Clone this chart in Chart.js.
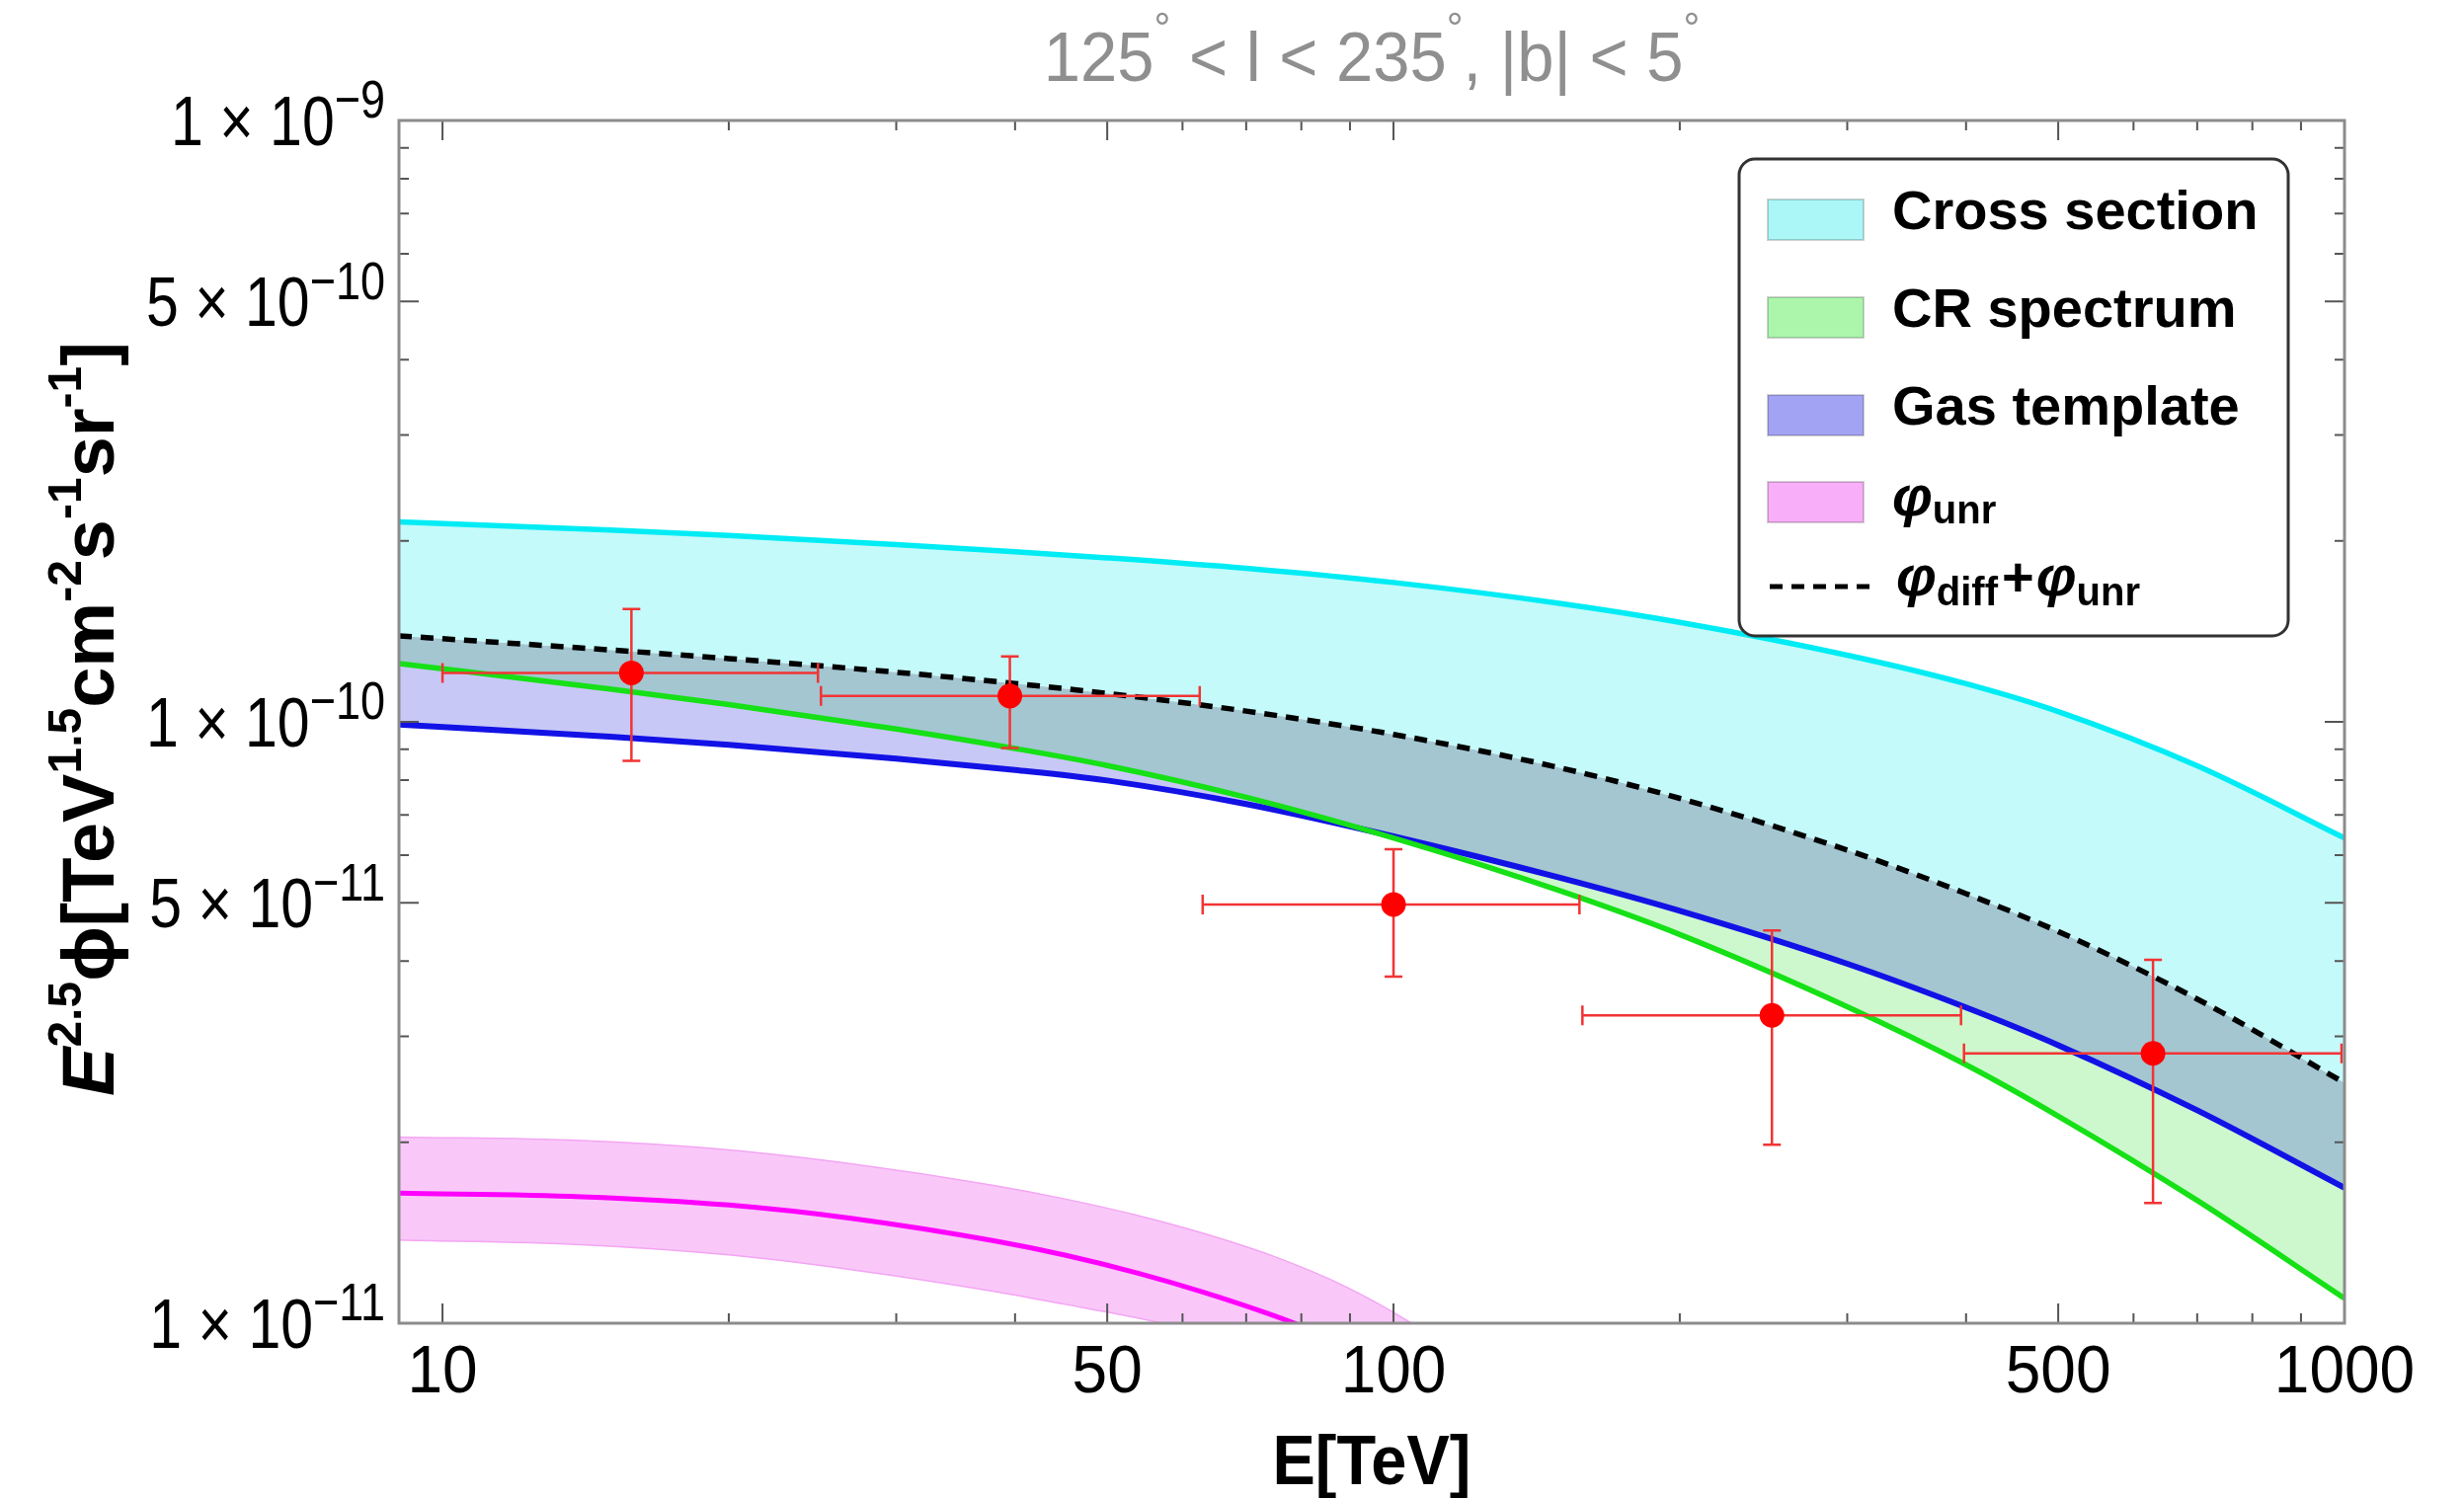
<!DOCTYPE html>
<html>
<head>
<meta charset="utf-8">
<title>125 &lt; l &lt; 235, |b| &lt; 5</title>
<script src="https://cdn.jsdelivr.net/npm/chart.js@4.4.1/dist/chart.umd.min.js"></script>
<style>
  html, body { margin: 0; padding: 0; background: #ffffff; }
  #grafico { display: block; }
</style>
</head>
<body>
<canvas id="grafico" width="2495" height="1517"></canvas>
<script>
// model curves, E in TeV, flux as E^2.5 phi
var energyGrid = [9, 15, 20, 30, 40, 50, 70, 100, 150, 200, 300, 400, 500, 700, 1000];
var crossSectionUpper = [2.15e-10, 2.085e-10, 2.041e-10, 1.971e-10, 1.918e-10, 1.874e-10, 1.80e-10, 1.705e-10, 1.573e-10, 1.464e-10, 1.291e-10, 1.157e-10, 1.04e-10, 8.45e-11, 6.41e-11];
var totalFlux = [1.39e-10, 1.317e-10, 1.274e-10, 1.209e-10, 1.158e-10, 1.115e-10, 1.042e-10, 9.53e-11, 8.38e-11, 7.46e-11, 6.12e-11, 5.18e-11, 4.48e-11, 3.46e-11, 2.51e-11];
var crSpectrumLower = [1.25e-10, 1.134e-10, 1.068e-10, 9.73e-11, 9.03e-11, 8.46e-11, 7.49e-11, 6.41e-11, 5.23e-11, 4.43e-11, 3.36e-11, 2.69e-11, 2.21e-11, 1.60e-11, 1.10e-11];
var gasTemplateLower = [9.9e-11, 9.45e-11, 9.16e-11, 8.69e-11, 8.32e-11, 7.99e-11, 7.30e-11, 6.45e-11, 5.5e-11, 4.85e-11, 3.96e-11, 3.35e-11, 2.9e-11, 2.26e-11, 1.68e-11];

var unresolvedEnergy = [9, 14, 20, 27, 38, 45, 54, 63, 75, 89, 104, 120];
var unresolvedUpper = [2.04e-11, 2.012e-11, 1.942e-11, 1.84e-11, 1.695e-11, 1.611e-11, 1.509e-11, 1.412e-11, 1.29e-11, 1.151e-11, 1.004e-11, 8.58e-12];
var unresolvedFlux = [1.645e-11, 1.623e-11, 1.572e-11, 1.493e-11, 1.371e-11, 1.299e-11, 1.21e-11, 1.127e-11, 1.028e-11, 9.24e-12, 8.22e-12, 7.23e-12];
var unresolvedLower = [1.375e-11, 1.351e-11, 1.299e-11, 1.227e-11, 1.13e-11, 1.076e-11, 1.019e-11, 9.64e-12, 8.87e-12, 8.0e-12, 7.13e-12, 6.29e-12];

// measured points
var pointEnergy = [15.8, 39.5, 100, 250, 629];
var pointFlux = [1.206e-10, 1.104e-10, 4.97e-11, 3.25e-11, 2.81e-11];
var fluxHigh = [1.54e-10, 1.285e-10, 6.14e-11, 4.5e-11, 4.02e-11];
var fluxLow = [8.61e-11, 9.05e-11, 3.77e-11, 1.98e-11, 1.585e-11];
var binLow = [10, 25, 63, 158, 398];
var binHigh = [25, 63, 158, 398, 1000];

// ticks
var xLabelValues = [10, 50, 100, 500, 1000];
var xMinorTicks = [20, 30, 40, 60, 70, 80, 90, 200, 300, 400, 600, 700, 800, 900];
var yLabelValues = [1e-11, 5e-11, 1e-10, 5e-10, 1e-9];
var yLabelMantissa = ['1', '5', '1', '5', '1'];
var yLabelExponent = ['\u221211', '\u221211', '\u221210', '\u221210', '\u22129'];
var yMinorTicks = [2e-11, 3e-11, 4e-11, 6e-11, 7e-11, 8e-11, 9e-11, 2e-10, 3e-10, 4e-10, 6e-10, 7e-10, 8e-10, 9e-10];

var legendLabels = ['Cross section', 'CR spectrum', 'Gas template'];
var legendSwatches = ['#abf7f7', '#acf6ac', '#a3a3f4', '#f9aef9'];

var FONT = "'Liberation Sans', Arial, sans-serif";

function points(xs, ys) {
    var out = [];
    for (var i = 0; i < xs.length; i++) {
        out.push({x: xs[i], y: ys[i]});
    }
    return out;
}

function fontOf(p) {
    return (p.italic ? 'italic ' : '') + (p.bold ? 'bold ' : '') + p.size + 'px ' + FONT;
}

// draws a run of text pieces (with super/subscripts) around a baseline point
function richText(ctx, parts, x, y, opts) {
    ctx.save();
    ctx.translate(x, y);
    if (opts.rotate) ctx.rotate(opts.rotate);
    ctx.scale(1, opts.stretch || 1);
    var total = 0;
    var widths = parts.map(function (p) {
        ctx.font = fontOf(p);
        var w = ctx.measureText(p.text).width + (p.gap || 0);
        total += w;
        return w;
    });
    var cx = 0;
    if (opts.align === 'right') cx = -total;
    if (opts.align === 'center') cx = -total / 2;
    ctx.fillStyle = opts.color || '#000';
    ctx.textAlign = 'left';
    ctx.textBaseline = 'alphabetic';
    for (var i = 0; i < parts.length; i++) {
        ctx.font = fontOf(parts[i]);
        ctx.fillText(parts[i].text, cx, -(parts[i].rise || 0));
        cx += widths[i];
    }
    ctx.restore();
}

function drawErrorBars(chart) {
    var ctx = chart.ctx, xs = chart.scales.x, ys = chart.scales.y;
    ctx.save();
    ctx.strokeStyle = '#f23434';
    ctx.lineWidth = 2.5;
    ctx.beginPath();
    for (var i = 0; i < pointEnergy.length; i++) {
        var px = xs.getPixelForValue(pointEnergy[i]);
        var py = ys.getPixelForValue(pointFlux[i]);
        var x0 = xs.getPixelForValue(binLow[i]);
        var x1 = xs.getPixelForValue(binHigh[i]) - 3;
        var y0 = ys.getPixelForValue(fluxLow[i]);
        var y1 = ys.getPixelForValue(fluxHigh[i]);
        ctx.moveTo(x0, py); ctx.lineTo(x1, py);
        ctx.moveTo(px, y0); ctx.lineTo(px, y1);
        ctx.moveTo(x0, py - 10); ctx.lineTo(x0, py + 10);
        ctx.moveTo(x1, py - 10); ctx.lineTo(x1, py + 10);
        ctx.moveTo(px - 9, y0); ctx.lineTo(px + 9, y0);
        ctx.moveTo(px - 9, y1); ctx.lineTo(px + 9, y1);
    }
    ctx.stroke();
    ctx.restore();
}

function drawFrame(chart) {
    var ctx = chart.ctx, a = chart.chartArea, xs = chart.scales.x, ys = chart.scales.y;
    ctx.save();
    ctx.strokeStyle = '#555';
    ctx.lineWidth = 2;
    ctx.beginPath();
    function xTick(v, len) {
        var px = xs.getPixelForValue(v);
        ctx.moveTo(px, a.bottom); ctx.lineTo(px, a.bottom - len);
        ctx.moveTo(px, a.top); ctx.lineTo(px, a.top + len);
    }
    function yTick(v, len) {
        var py = ys.getPixelForValue(v);
        ctx.moveTo(a.left, py); ctx.lineTo(a.left + len, py);
        ctx.moveTo(a.right, py); ctx.lineTo(a.right - len, py);
    }
    xLabelValues.forEach(function (v) { xTick(v, 20); });
    xMinorTicks.forEach(function (v) { xTick(v, 10); });
    yLabelValues.forEach(function (v) { yTick(v, 20); });
    yMinorTicks.forEach(function (v) { yTick(v, 10); });
    ctx.stroke();
    ctx.strokeStyle = '#8c8c8c';
    ctx.lineWidth = 3;
    ctx.strokeRect(a.left, a.top, a.right - a.left, a.bottom - a.top);
    ctx.restore();
}

function drawTexts(chart) {
    var ctx = chart.ctx, a = chart.chartArea, xs = chart.scales.x, ys = chart.scales.y;
    var mid = (a.left + a.right) / 2;

    richText(ctx, [
        {text: '125', size: 67},
        {text: '\u00b0', size: 42, rise: 36},
        {text: ' < l < 235', size: 67},
        {text: '\u00b0', size: 42, rise: 36},
        {text: ', |b| < 5', size: 67},
        {text: '\u00b0', size: 42, rise: 36}
    ], mid, 82, {align: 'center', color: '#8f8f8f', stretch: 1.06});

    xLabelValues.forEach(function (v) {
        richText(ctx, [{text: String(v), size: 64}], xs.getPixelForValue(v), a.bottom + 70, {align: 'center', stretch: 1.08});
    });
    richText(ctx, [{text: 'E[TeV]', size: 65, bold: true}], mid, 1503, {align: 'center', stretch: 1.07});

    yLabelValues.forEach(function (v, i) {
        richText(ctx, [
            {text: yLabelMantissa[i] + ' \u00d7 10', size: 59},
            {text: yLabelExponent[i], size: 45, rise: 23}
        ], a.left - 14, ys.getPixelForValue(v) + 25, {align: 'right', stretch: 1.2});
    });

    richText(ctx, [
        {text: 'E', size: 74, bold: true, italic: true},
        {text: '2.5', size: 48, bold: true, rise: 33},
        {text: '\u03d5', size: 74, bold: true},
        {text: '[TeV', size: 74, bold: true},
        {text: '1.5', size: 48, bold: true, rise: 33},
        {text: 'cm', size: 74, bold: true},
        {text: '-2', size: 48, bold: true, rise: 33},
        {text: 's', size: 74, bold: true},
        {text: '-1', size: 48, bold: true, rise: 33},
        {text: 'sr', size: 74, bold: true},
        {text: '-1', size: 48, bold: true, rise: 33},
        {text: ']', size: 74, bold: true}
    ], 115, 728, {align: 'center', rotate: -Math.PI / 2});
}

function drawLegend(chart) {
    var ctx = chart.ctx;
    ctx.save();
    ctx.beginPath();
    ctx.roundRect(1761, 161, 556, 483, 16);
    ctx.fillStyle = '#ffffff';
    ctx.fill();
    ctx.strokeStyle = '#333';
    ctx.lineWidth = 3;
    ctx.stroke();

    var rows = [222, 321, 420, 508];
    for (var i = 0; i < rows.length; i++) {
        ctx.fillStyle = legendSwatches[i];
        ctx.fillRect(1790, rows[i] - 20, 97, 41);
        ctx.strokeStyle = 'rgba(0,0,0,0.18)';
        ctx.lineWidth = 2;
        ctx.strokeRect(1790, rows[i] - 20, 97, 41);
    }
    ctx.beginPath();
    ctx.setLineDash([13, 9]);
    ctx.strokeStyle = '#000';
    ctx.lineWidth = 5;
    ctx.moveTo(1792, 594);
    ctx.lineTo(1895, 594);
    ctx.stroke();
    ctx.setLineDash([]);
    ctx.restore();

    for (var j = 0; j < legendLabels.length; j++) {
        richText(ctx, [{text: legendLabels[j], size: 56, bold: true}], 1916, rows[j] + 10, {});
    }
    richText(ctx, [
        {text: '\u03c6', size: 58, bold: true, italic: true},
        {text: 'unr', size: 40, bold: true, rise: -8}
    ], 1916, 522, {});
    richText(ctx, [
        {text: '\u03c6', size: 58, bold: true, italic: true},
        {text: 'diff', size: 40, bold: true, rise: -10, gap: 4},
        {text: '+', size: 56, bold: true, gap: 2},
        {text: '\u03c6', size: 58, bold: true, italic: true},
        {text: 'unr', size: 40, bold: true, rise: -10}
    ], 1920, 603, {});
}

var decorations = {
    id: 'decorations',
    beforeDatasetDraw: function (chart, args) {
        if (args.index === 0) drawErrorBars(chart);
    },
    afterDraw: function (chart) {
        drawFrame(chart);
        drawTexts(chart);
        drawLegend(chart);
    }
};

function lineSet(data, color, width, extra) {
    var ds = {
        data: data,
        borderColor: color,
        borderWidth: width,
        pointRadius: 0,
        fill: false,
        cubicInterpolationMode: 'monotone'
    };
    for (var k in extra) ds[k] = extra[k];
    return ds;
}

var ctx = document.getElementById('grafico');
var chart = new Chart(ctx, {
    type: 'line',
    data: {
        datasets: [
            {
                data: points(pointEnergy, pointFlux),
                showLine: false,
                pointRadius: 12.5,
                pointBackgroundColor: '#ff0000',
                pointBorderWidth: 0
            },
            lineSet(points(unresolvedEnergy, unresolvedFlux), '#ff00ff', 5),
            lineSet(points(unresolvedEnergy, unresolvedUpper), '#f3a6f3', 1.5, {fill: {target: 3, above: '#f9c8f9', below: '#f9c8f9'}}),
            lineSet(points(unresolvedEnergy, unresolvedLower), '#f3a6f3', 1.5),
            lineSet(points(energyGrid, crSpectrumLower), '#16e016', 5.5, {fill: {target: 7, above: '#c8c8f6', below: '#cdf8cd'}}),
            lineSet(points(energyGrid, totalFlux), '#000000', 5.5, {borderDash: [13, 9], fill: {target: 7, above: '#a3c6d1', below: 'rgba(0,0,0,0)'}}),
            lineSet(points(energyGrid, crossSectionUpper), '#00ecf4', 5.5, {fill: {target: 5, above: '#c4fafa', below: 'rgba(0,0,0,0)'}}),
            lineSet(points(energyGrid, gasTemplateLower), '#1212e6', 6)
        ]
    },
    options: {
        responsive: false,
        animation: false,
        devicePixelRatio: 1,
        layout: {padding: {top: 122, right: 121, bottom: 0, left: 0}},
        plugins: {
            legend: {display: false},
            title: {display: false},
            tooltip: {enabled: false},
            filler: {drawTime: 'beforeDatasetsDraw'}
        },
        scales: {
            x: {
                type: 'logarithmic',
                min: 9,
                max: 1000,
                ticks: {display: false},
                grid: {display: false},
                border: {display: false},
                afterFit: function (scale) { scale.height = 177; }
            },
            y: {
                type: 'logarithmic',
                min: 1e-11,
                max: 1e-9,
                ticks: {display: false},
                grid: {display: false},
                border: {display: false},
                afterFit: function (scale) { scale.width = 404; }
            }
        }
    },
    plugins: [decorations]
});
</script>
</body>
</html>
